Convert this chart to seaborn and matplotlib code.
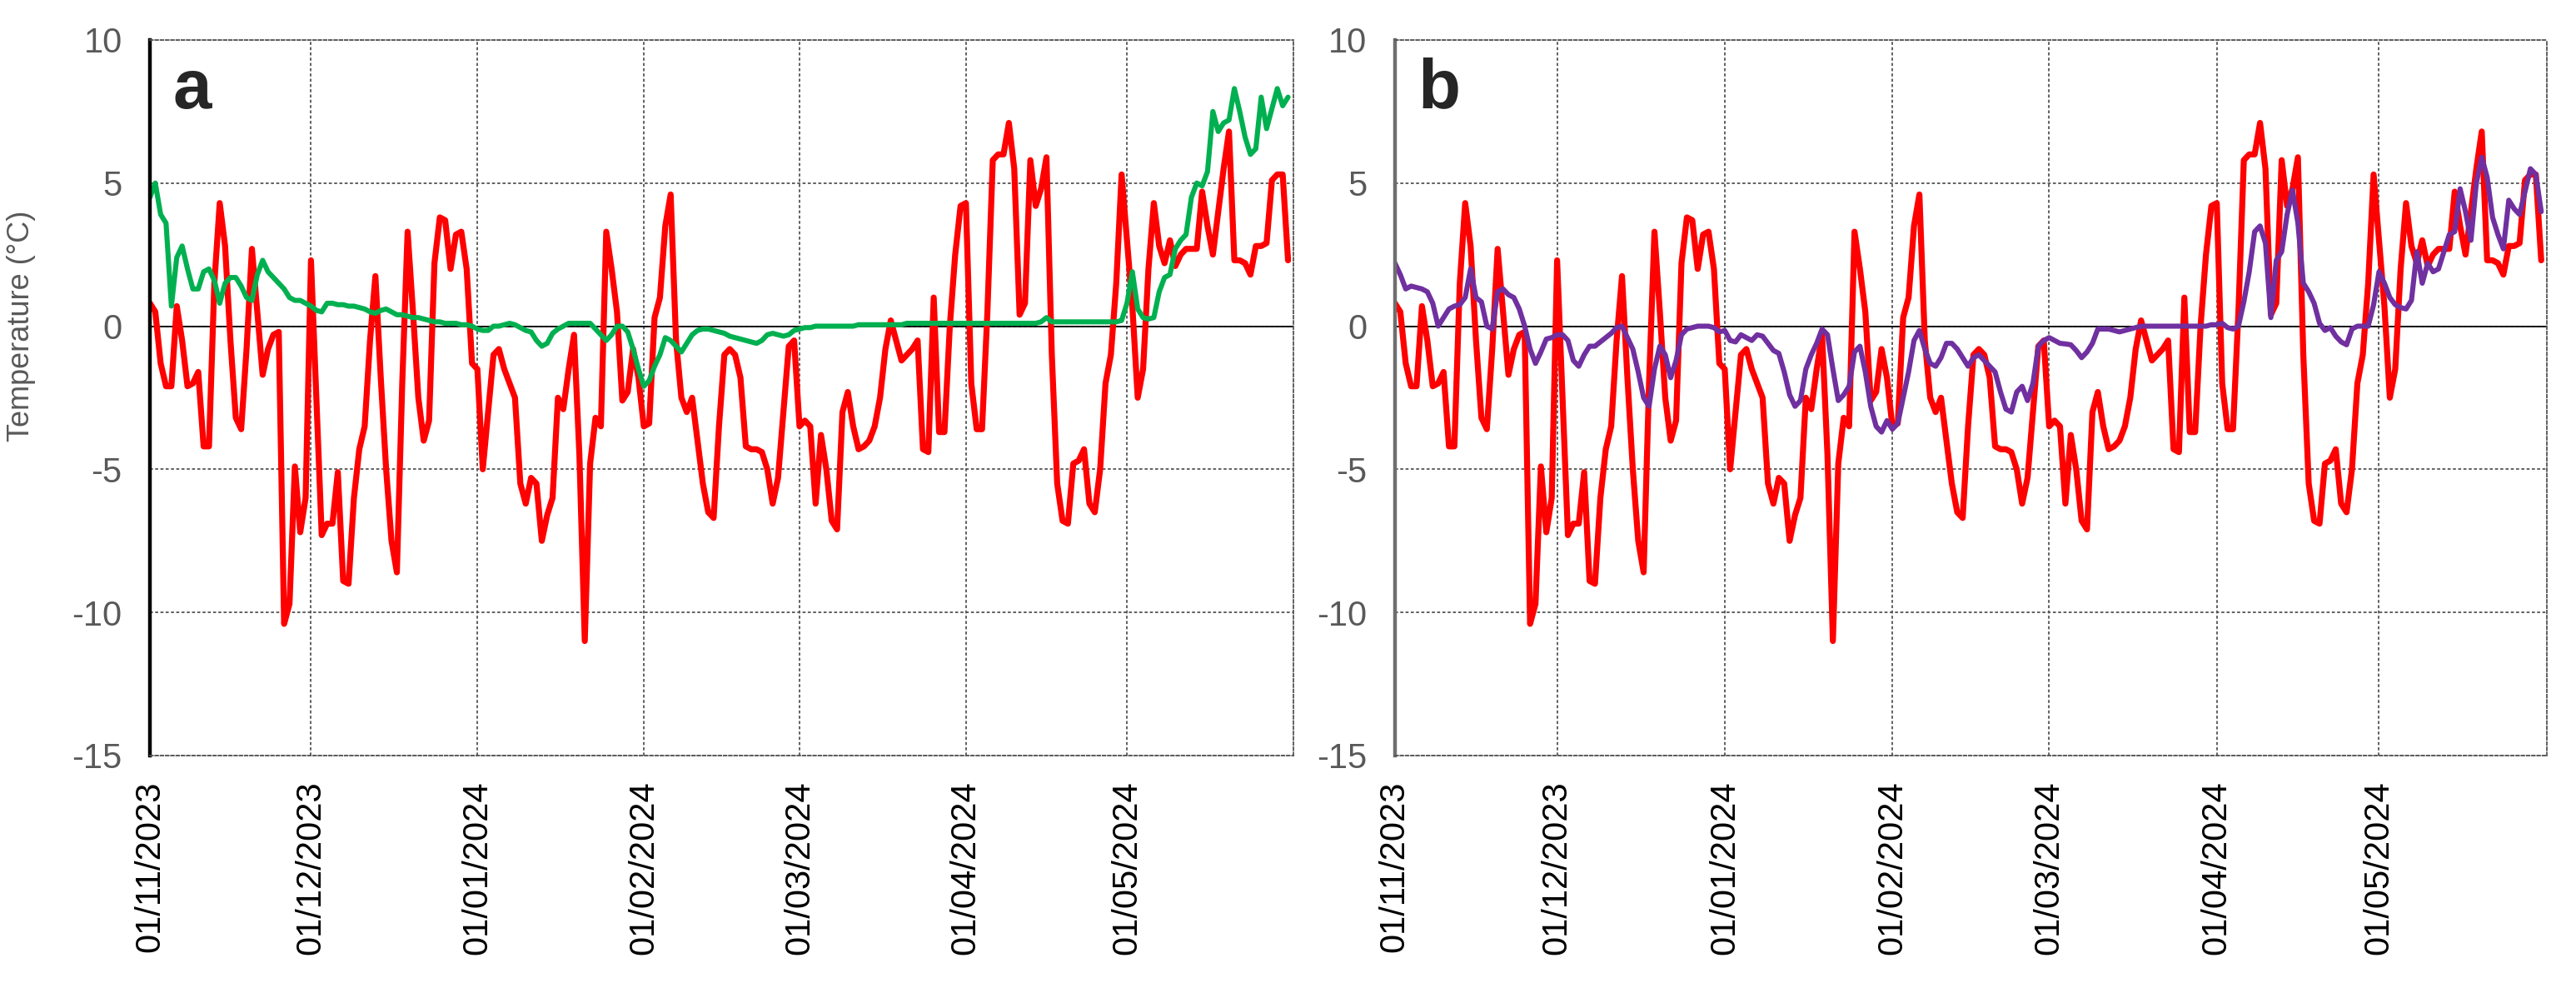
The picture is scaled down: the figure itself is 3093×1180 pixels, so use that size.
import pandas as pd
import numpy as np
import seaborn as sns
import matplotlib.pyplot as plt
import matplotlib.dates as mdates

# daily series, 01/11/2023 .. 31/05/2024 (one value per day)
start_date = '2023-11-01'
month_starts = ['2023-11-01', '2023-12-01', '2024-01-01', '2024-02-01',
                '2024-03-01', '2024-04-01', '2024-05-01']
x_end = '2024-06-01'
y_ticks = [-15, -10, -5, 0, 5, 10]

air_temp = [
    # Nov
    0.8, 0.5, -1.3, -2.1, -2.1, 0.7, -0.5, -2.1, -2.0, -1.6,
    -4.2, -4.2, 1.5, 4.3, 2.8, -0.5, -3.2, -3.6, -0.8, 2.7,
    0.5, -1.7, -0.8, -0.3, -0.2, -10.4, -9.7, -4.9, -7.2, -6.0,
    # Dec
    2.3, -2.5, -7.3, -6.9, -6.9, -5.1, -8.9, -9.0, -6.0, -4.3,
    -3.5, -0.5, 1.75, -1.8, -5.0, -7.5, -8.6, -2.0, 3.3, 0.5,
    -2.5, -4.0, -3.3, 2.2, 3.8, 3.7, 2.0, 3.2, 3.3, 2.0,
    -1.3,
    # Jan
    -1.5, -5.0, -3.0, -1.0, -0.8, -1.5, -2.0, -2.5, -5.5, -6.2,
    -5.3, -5.5, -7.5, -6.6, -6.0, -2.5, -2.9, -1.5, -0.3, -4.5,
    -11.0, -4.8, -3.2, -3.5, 3.3, 2.0, 0.5, -2.6, -2.3, -0.8,
    -1.8,
    # Feb
    -3.5, -3.4, 0.3, 1.0, 3.5, 4.6, -0.5, -2.5, -3.0, -2.5,
    -4.0, -5.5, -6.5, -6.7, -3.5, -1.0, -0.8, -1.0, -1.8, -4.2,
    -4.3, -4.3, -4.4, -5.0, -6.2, -5.3, -3.0, -0.7, -0.5,
    # Mar
    -3.5, -3.3, -3.5, -6.2, -3.8, -5.0, -6.8, -7.1, -3.0, -2.3,
    -3.5, -4.3, -4.2, -4.0, -3.5, -2.5, -0.8, 0.2, -0.5, -1.2,
    -1.0, -0.8, -0.5, -4.3, -4.4, 1.0, -3.7, -3.7, 0.0, 2.5,
    4.2,
    # Apr
    4.3, -2.0, -3.6, -3.6, 0.5, 5.8, 6.0, 6.0, 7.1, 5.5,
    0.4, 0.8, 5.8, 4.2, 4.8, 5.9, -1.0, -5.5, -6.8, -6.9,
    -4.8, -4.7, -4.3, -6.2, -6.5, -5.0, -2.0, -1.0, 1.5, 5.3,
    # May
    3.0, 0.7, -2.5, -1.5, 2.0, 4.3, 2.8, 2.2, 3.0, 2.1,
    2.5, 2.7, 2.7, 2.7, 4.7, 3.5, 2.5, 4.0, 5.5, 6.8,
    2.3, 2.3, 2.2, 1.8, 2.8, 2.8, 2.9, 5.1, 5.3, 5.3, 2.3,
]

series_a = [
    # Nov
    4.5, 5.0, 3.9, 3.6, 0.7, 2.4, 2.8, 2.0, 1.3, 1.3,
    1.9, 2.0, 1.6, 0.8, 1.5, 1.7, 1.7, 1.4, 1.0, 0.9,
    1.8, 2.3, 1.9, 1.7, 1.5, 1.3, 1.0, 0.9, 0.9, 0.8,
    # Dec
    0.7, 0.55, 0.5, 0.8, 0.8, 0.75, 0.75, 0.7, 0.7, 0.65,
    0.6, 0.5, 0.45, 0.55, 0.6, 0.5, 0.4, 0.4, 0.35, 0.3,
    0.3, 0.25, 0.2, 0.15, 0.15, 0.1, 0.1, 0.1, 0.05, 0.05,
    0.0,
    # Jan
    -0.1, -0.15, -0.15, 0.0, 0.0, 0.05, 0.1, 0.05, -0.05, -0.15,
    -0.2, -0.5, -0.7, -0.6, -0.25, -0.1, 0.0, 0.1, 0.1, 0.1,
    0.1, 0.1, -0.1, -0.3, -0.5, -0.3, 0.0, 0.0, -0.2, -0.8,
    -1.5,
    # Feb
    -2.1, -1.9, -1.4, -1.0, -0.4, -0.5, -0.7, -0.9, -0.6, -0.3,
    -0.15, -0.1, -0.1, -0.15, -0.2, -0.25, -0.35, -0.4, -0.45, -0.5,
    -0.55, -0.6, -0.5, -0.3, -0.25, -0.3, -0.35, -0.3, -0.15,
    # Mar
    -0.1, -0.05, -0.05, 0.0, 0.0, 0.0, 0.0, 0.0, 0.0, 0.0,
    0.0, 0.05, 0.05, 0.05, 0.05, 0.05, 0.05, 0.05, 0.05, 0.05,
    0.1, 0.1, 0.1, 0.1, 0.1, 0.1, 0.1, 0.1, 0.1, 0.1,
    0.1,
    # Apr
    0.1, 0.1, 0.1, 0.1, 0.1, 0.1, 0.1, 0.1, 0.1, 0.1,
    0.1, 0.1, 0.1, 0.1, 0.15, 0.3, 0.15, 0.15, 0.15, 0.15,
    0.15, 0.15, 0.15, 0.15, 0.15, 0.15, 0.15, 0.15, 0.15, 0.2,
    # May
    0.8, 1.9, 0.6, 0.3, 0.25, 0.3, 1.2, 1.7, 1.8, 2.7,
    3.0, 3.2, 4.5, 5.0, 4.9, 5.4, 7.5, 6.8, 7.1, 7.2,
    8.3, 7.5, 6.6, 6.0, 6.2, 8.0, 6.9, 7.6, 8.3, 7.7, 8.0,
]

series_b = [
    # Nov
    2.2, 1.8, 1.3, 1.4, 1.35, 1.3, 1.2, 0.8, 0.0, 0.3,
    0.6, 0.7, 0.75, 1.0, 2.0, 1.0, 0.85, 0.0, -0.1, 1.2,
    1.3, 1.1, 1.0, 0.6, 0.0, -0.8, -1.3, -0.9, -0.45, -0.4,
    # Dec
    -0.3, -0.3, -0.5, -1.2, -1.4, -1.0, -0.7, -0.7, -0.55, -0.4,
    -0.25, -0.05, 0.0, -0.4, -0.8, -1.6, -2.5, -2.8, -1.5, -0.7,
    -1.0, -1.8, -1.2, -0.3, -0.1, -0.05, 0.0, 0.0, 0.0, -0.05,
    -0.2,
    # Jan
    -0.15, -0.5, -0.55, -0.3, -0.4, -0.5, -0.3, -0.35, -0.6, -0.85,
    -0.95, -1.6, -2.4, -2.8, -2.6, -1.5, -1.0, -0.6, -0.1, -0.3,
    -1.5, -2.6, -2.4, -2.1, -0.9, -0.7, -1.6, -2.8, -3.5, -3.7,
    -3.3,
    # Feb
    -3.6, -3.4, -2.5, -1.6, -0.5, -0.15, -0.8, -1.3, -1.4, -1.1,
    -0.6, -0.6, -0.8, -1.1, -1.4, -1.1, -1.0, -1.2, -1.4, -1.6,
    -2.3, -2.9, -3.0, -2.3, -2.1, -2.6, -2.0, -0.7, -0.5,
    # Mar
    -0.4, -0.5, -0.6, -0.62, -0.65, -0.85, -1.1, -0.9, -0.6, -0.1,
    -0.1, -0.1, -0.15, -0.2, -0.15, -0.1, -0.05, 0.0, 0.0, 0.0,
    0.0, 0.0, 0.0, 0.0, 0.0, 0.0, 0.0, 0.0, 0.0, 0.0,
    0.05,
    # Apr
    0.05, 0.1, -0.05, -0.1, 0.0, 0.85, 1.9, 3.3, 3.5, 2.9,
    0.3, 2.3, 2.6, 3.9, 4.75, 3.6, 1.5, 1.2, 0.8, 0.1,
    -0.15, -0.05, -0.35, -0.55, -0.65, -0.1, 0.0, 0.0, 0.0, 0.75,
    # May
    1.9, 1.5, 1.0, 0.75, 0.65, 0.6, 0.9, 2.6, 1.5, 2.2,
    1.9, 2.0, 2.6, 3.2, 3.3, 4.8, 4.0, 3.0, 5.0, 5.9,
    5.2, 3.8, 3.2, 2.7, 4.4, 4.1, 3.9, 4.7, 5.5, 5.3, 4.0,
]

dates = pd.date_range(start_date, periods=len(air_temp), freq='D')
df = pd.DataFrame({'date': dates, 'air': air_temp, 'a': series_a, 'b': series_b})

sns.set_style('white')
plt.rcParams['font.family'] = ['Liberation Sans', 'DejaVu Sans']
plt.rcParams['axes.unicode_minus'] = False

fig = plt.figure(figsize=(30.93, 11.80), dpi=100)
ax_a = fig.add_axes([0.0582, 0.2314, 0.4439, 0.728])
ax_b = fig.add_axes([0.5415, 0.2314, 0.4471, 0.728])

grid_style = dict(color='#555555', linestyle=(0, (2, 1.5)), linewidth=1.3)

for ax, col, colour, letter, spine_col in [(ax_a, 'a', '#00B050', 'a', 'black'),
                                            (ax_b, 'b', '#7030A0', 'b', '#6e6e6e')]:
    sns.lineplot(data=df, x='date', y='air', color='#FF0000', linewidth=5.2, ax=ax, legend=False)
    sns.lineplot(data=df, x='date', y=col, color=colour, linewidth=4.4, ax=ax, legend=False)
    ax.axhline(0, color='black', linewidth=1.3, zorder=1)

    ax.set_xlim(pd.Timestamp(start_date), pd.Timestamp(x_end))
    ax.set_ylim(-15, 10)
    ax.set_xticks(pd.to_datetime(month_starts))
    ax.xaxis.set_major_formatter(mdates.DateFormatter('%d/%m/%Y'))
    ax.set_yticks(y_ticks)
    ax.grid(True, **grid_style)
    ax.set_axisbelow(True)

    for side in ['top', 'right', 'bottom']:
        ax.spines[side].set_color('#555555')
        ax.spines[side].set_linestyle((0, (2, 1.5)))
        ax.spines[side].set_linewidth(1.3)
    ax.spines['left'].set_color(spine_col)
    ax.spines['left'].set_linewidth(3.2)

    ax.tick_params(axis='x', length=0, pad=22, labelsize=30, labelcolor='black', labelrotation=90)
    ax.tick_params(axis='y', length=0, pad=24, labelsize=30, labelcolor='#595959')
    ax.set_xlabel('')
    ax.set_ylabel('')

    ax.text(0.02, 0.905, letter, transform=ax.transAxes, fontsize=60,
            fontweight='bold', va='baseline', ha='left')

ax_a.set_ylabel('Temperature (°C)', fontsize=26, color='#595959')
ax_a.yaxis.set_label_coords(-0.1, 0.6)

plt.savefig('out.png', dpi=100)
